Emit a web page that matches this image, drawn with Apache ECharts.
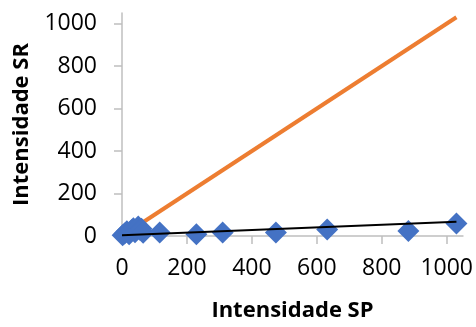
<!DOCTYPE html>
<html>
<head>
<meta charset="utf-8">
<script src="https://cdn.jsdelivr.net/npm/echarts@6/dist/echarts.min.js"></script>
<style>
  html, body { margin: 0; padding: 0; background: #fff; }
  #chart { width: 476px; height: 327px; }
</style>
</head>
<body>
<div id="chart"></div>
<script>
// Measured intensities: SP (x) against SR (y)
const spValues = [2, 8, 15, 22, 30, 35, 40, 50, 55, 60, 65, 116, 229, 310, 474, 632, 882, 1030];
const srValues = [4, 12, 22, 8, 28, 36, 18, 45, 30, 34, 15, 17, 8, 16, 16, 31, 23, 59];

// Identity reference line (SR = SP)
const identityX = [0, 1030];
const identityY = [0, 1030];

// Linear trend fitted to the measurements
const trendX = [0, 1030];
const trendY = [3, 67];

// Axis tick labels
const tickValues = [0, 200, 400, 600, 800, 1000];

const points = spValues.map((x, i) => [x, srValues[i]]);
const identity = identityX.map((x, i) => [x, identityY[i]]);
const trend = trendX.map((x, i) => [x, trendY[i]]);

const font = "'Open Sans', 'DejaVu Sans', sans-serif";
const axisGray = '#BFBFBF';

function valueAxis(name, nameGap, labelMargin) {
  return {
    type: 'value',
    name: name,
    nameLocation: 'middle',
    nameGap: nameGap,
    nameTextStyle: { fontFamily: font, fontSize: 22, fontWeight: 'bold', color: '#000' },
    min: 0,
    max: 1050,
    splitLine: { show: false },
    axisLine: { show: true, onZero: false, lineStyle: { color: axisGray, width: 1.5 } },
    axisTick: { show: true, inside: false, length: 8, customValues: tickValues, lineStyle: { color: axisGray, width: 1.5 } },
    axisLabel: {
      customValues: tickValues,
      formatter: v => String(v),
      fontFamily: font,
      fontSize: 23,
      color: '#000',
      margin: labelMargin
    }
  };
}

const chart = echarts.init(document.getElementById('chart'), null, { renderer: 'canvas' });
chart.setOption({
  animation: false,
  backgroundColor: '#fff',
  grid: { left: 122, right: 11, top: 13, bottom: 90, containLabel: false },
  xAxis: valueAxis('Intensidade SP', 64, 21),
  yAxis: valueAxis('Intensidade SR', 89, 25),
  series: [
    {
      type: 'line',
      data: identity,
      symbol: 'none',
      lineStyle: { color: '#ED7D31', width: 4 },
      z: 1
    },
    {
      type: 'scatter',
      data: points,
      symbol: 'diamond',
      symbolSize: 22,
      itemStyle: { color: '#4472C4', opacity: 1 },
      z: 2
    },
    {
      type: 'line',
      data: trend,
      symbol: 'none',
      lineStyle: { color: '#000', width: 2 },
      z: 3
    }
  ]
});
</script>
</body>
</html>
